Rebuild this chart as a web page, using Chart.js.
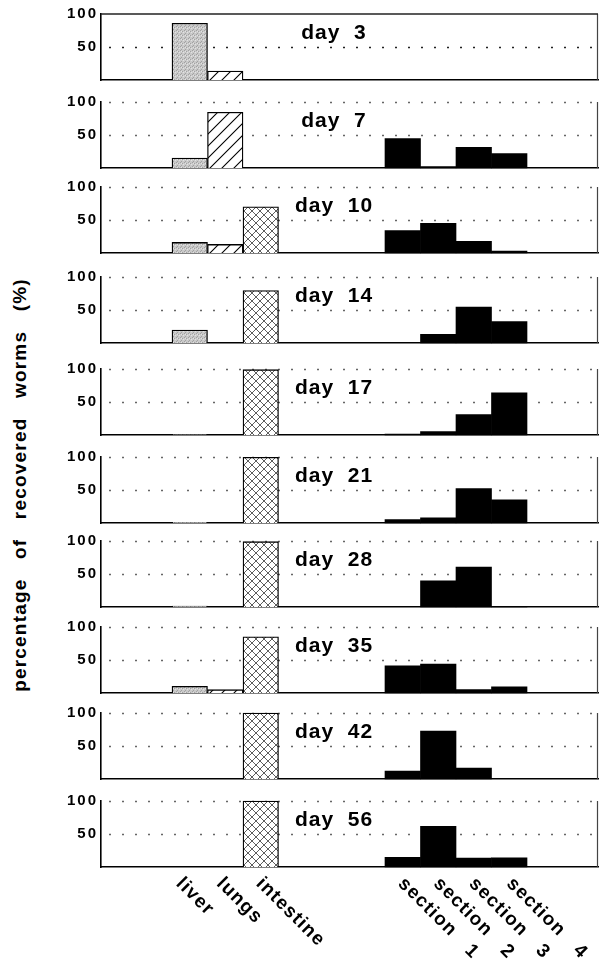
<!DOCTYPE html>
<html>
<head>
<meta charset="utf-8">
<script src="https://cdn.jsdelivr.net/npm/chart.js@4.4.1/dist/chart.umd.min.js"></script>
<style>
  html, body { margin: 0; padding: 0; background: #fff; }
  body { width: 599px; height: 960px; position: relative; overflow: hidden; font-family: "Liberation Sans", Arial, sans-serif; }
  canvas.panel { position: absolute; left: 0; }
  #ytitle { position: absolute; left: 20px; top: 485px; transform: translate(-50%, -50%) rotate(-90deg);
    white-space: pre; font: bold 19px "Liberation Sans", Arial, sans-serif; letter-spacing: 1.2px; word-spacing: 13px; color: #000; }
</style>
</head>
<body>
<div id="ytitle">percentage of recovered worms (%)</div>
<script>
// ---------------- data ----------------
const xLabels = ['', '', 'liver', 'lungs', 'intestine', '', '', '', 'section   1', 'section   2', 'section   3', 'section   4', '', ''];
const days = ['day  3', 'day  7', 'day  10', 'day  14', 'day  17', 'day  21', 'day  28', 'day  35', 'day  42', 'day  56'];
const yTicks = [50, 100];
const liver     = [86,   15,   16,   19.5, 0.5,  1,    1.5,  10,   null, null];
const lungs     = [13.5, 84.5, 13,   null, null, null, null, 5,    null, null];
const intestine = [null, null, 70,   79.5, 99,   99.5, 99,   85,   100,  100];
const section1  = [null, 44.5, 34,   null, 1.5,  5,    null, 41,   12,   14.5];
const section2  = [null, 2,    45,   13,   5,    8,    39.5, 44,   72.5, 61.5];
const section3  = [null, 31.5, 17.5, 54.5, 31,   52,   60.5, 5,    16.5, 13.5];
const section4  = [null, 22,   3,    32.5, 64,   35,   0.5,  9.5,  null, 14];

// ---------------- layout ----------------
const W = 599, H = 960;
const plotTops = [14, 102, 187, 277, 369, 457, 541, 627, 713, 801];
const plotH = 66, padTop = 12, padBottom = 6;
const labelShift = [0, 0, -4, 1, 5, 0, 0, 0, 5, 5, 5, 7, 0, 0];
const FONT = '"Liberation Sans", Arial, sans-serif';
Chart.defaults.font.family = FONT;

// ---------------- patterns ----------------
function mk(w, h, draw) { const c = document.createElement('canvas'); c.width = w; c.height = h; const g = c.getContext('2d'); draw(g); return g.createPattern(c, 'repeat'); }
const liverFill = mk(4, 4, g => {
  g.fillStyle = '#c9c9c9'; g.fillRect(0, 0, 4, 4);
  g.fillStyle = '#a2a2a2'; [[0,0],[2,1],[1,3]].forEach(p => g.fillRect(p[0], p[1], 1, 1));
  g.fillStyle = '#e2e2e2'; [[3,2],[1,1]].forEach(p => g.fillRect(p[0], p[1], 1, 1));
});
const lungsFill = mk(12, 12, g => {
  g.fillStyle = '#fff'; g.fillRect(0, 0, 12, 12);
  g.strokeStyle = '#000'; g.lineWidth = 1.1;
  g.beginPath(); g.moveTo(-1, 13); g.lineTo(13, -1); g.moveTo(-2, 2); g.lineTo(2, -2); g.moveTo(10, 14); g.lineTo(14, 10); g.stroke();
});
const intestineFill = mk(8, 8, g => {
  g.fillStyle = '#fff'; g.fillRect(0, 0, 8, 8);
  g.strokeStyle = '#333'; g.lineWidth = 0.8;
  g.beginPath(); g.moveTo(0, 0); g.lineTo(8, 8); g.moveTo(0, 8); g.lineTo(8, 0); g.stroke();
});

const fills = [null, null, liverFill, lungsFill, intestineFill, null, null, null, '#000', '#000', '#000', '#000', null, null];
const bws   = [0, 0, 1.3, 1.3, 1.3, 0, 0, 0, 0, 0, 0, 0, 0, 0];

const panelPlugin = {
  id: 'panel',
  beforeDraw(chart) {
    chart.ctx.letterSpacing = '2px';
  },
  beforeDatasetsDraw(chart, args, opts) {
    const { ctx, chartArea: a } = chart; const y = chart.scales.y;
    ctx.save();
    ctx.letterSpacing = '0px';
    ctx.lineWidth = 1.3;
    ctx.strokeStyle = opts.first ? '#222' : '#666';
    ctx.setLineDash([2, 11]);
    yTicks.forEach(v => {
      if (opts.first && v === 100) return;
      const py = Math.round(y.getPixelForValue(v)) + 0.5;
      ctx.beginPath(); ctx.moveTo(a.left + 8, py); ctx.lineTo(a.right, py); ctx.stroke();
    });
    ctx.setLineDash([]);
    // right frame
    ctx.strokeStyle = '#444'; ctx.lineWidth = 1.2;
    ctx.beginPath(); ctx.moveTo(a.right - 0.5, a.top); ctx.lineTo(a.right - 0.5, a.bottom); ctx.stroke();
    if (opts.first) {
      ctx.strokeStyle = '#222'; ctx.lineWidth = 1.5;
      ctx.beginPath(); ctx.moveTo(a.left, a.top); ctx.lineTo(a.right, a.top); ctx.stroke();
    }
    ctx.restore();
  },
  afterDatasetsDraw(chart, args, opts) {
    const { ctx, chartArea: a } = chart;
    ctx.save();
    ctx.letterSpacing = '1px';
    ctx.fillStyle = '#000';
    ctx.font = 'bold 21px ' + FONT;
    ctx.textAlign = 'center'; ctx.textBaseline = 'middle';
    ctx.fillText(opts.label, 334, a.top + 19);
    if (opts.last) {
      const xs = chart.scales.x;
      ctx.font = 'bold 19px ' + FONT;
      ctx.letterSpacing = '1.2px';
      ctx.textAlign = 'left'; ctx.textBaseline = 'top';
      xLabels.forEach((lab, i) => {
        if (!lab) return;
        const px = xs.getPixelForValue(i);
        ctx.save();
        ctx.translate(px + labelShift[i], a.bottom + 7);
        ctx.rotate(Math.PI / 4);
        ctx.fillText(lab, 0, 0);
        ctx.restore();
      });
    }
    ctx.restore();
  }
};

days.forEach((day, i) => {
  const last = i === days.length - 1;
  const cv = document.createElement('canvas');
  cv.className = 'panel';
  const ch = padTop + plotH + (last ? (H - plotTops[i] - plotH) : padBottom);
  cv.width = W; cv.height = ch;
  cv.style.top = (plotTops[i] - padTop) + 'px';
  cv.style.width = W + 'px'; cv.style.height = ch + 'px';
  document.body.appendChild(cv);
  const values = [null, null, liver[i], lungs[i], intestine[i], null, null, null, section1[i], section2[i], section3[i], section4[i], null, null];
  new Chart(cv, {
    type: 'bar',
    data: {
      labels: xLabels,
      datasets: [{
        data: values,
        backgroundColor: fills,
        borderColor: '#000',
        borderWidth: bws,
        borderSkipped: 'start',
        barPercentage: 1,
        categoryPercentage: 1,
        clip: 2
      }]
    },
    options: {
      responsive: false, animation: false, devicePixelRatio: 1,
      layout: { padding: { top: padTop, bottom: ch - padTop - plotH, left: 0, right: 1 } },
      plugins: {
        legend: { display: false }, tooltip: { enabled: false },
        panel: { label: day, first: i === 0, last: last }
      },
      scales: {
        x: {
          display: true,
          grid: { display: false, drawTicks: false },
          ticks: { display: false },
          border: { display: true, color: '#000', width: 1.6 },
          afterFit: s => { s.height = 0; s.paddingLeft = 0; s.paddingRight = 0; }
        },
        y: {
          min: 0, max: 100,
          afterBuildTicks: s => { s.ticks = [0].concat(yTicks).map(v => ({ value: v })); },
          ticks: {
            callback: v => (v === 0 ? '' : String(v)),
            font: { size: 15, weight: 'bold' }, color: '#000', padding: 3
          },
          grid: { display: false, drawTicks: false },
          border: { display: true, color: '#000', width: 1.6 },
          afterFit: s => { s.width = 101; s.paddingTop = 0; s.paddingBottom = 0; }
        }
      }
    },
    plugins: [panelPlugin]
  });
});
</script>
</body>
</html>
